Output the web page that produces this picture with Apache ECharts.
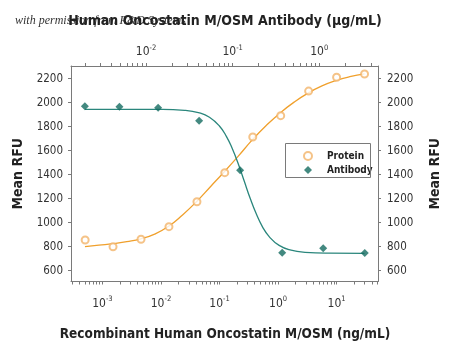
<!DOCTYPE html>
<html>
<head>
<meta charset="utf-8">
<script src="https://cdn.jsdelivr.net/npm/echarts@6/dist/echarts.min.js"></script>
<style>html,body{margin:0;padding:0;background:#fff}#c{width:450px;height:347px}</style>
</head>
<body>
<div id="c"></div>
<script>
// ---- data ----
var proteinConc = [0.000508, 0.00152, 0.00457, 0.0137, 0.0412, 0.123, 0.370, 1.11, 3.33, 10, 30]; // ng/mL
var proteinRFU  = [856, 800, 862, 967, 1175, 1417, 1714, 1892, 2097, 2212, 2239];
var antibodyConc = [0.00197, 0.00493, 0.0138, 0.041, 0.122, 0.373, 1.11, 3.35]; // ug/mL
var antibodyRFU  = [1970, 1967, 1958, 1850, 1437, 750, 787, 748];
// fitted curves, points
var proteinFitConc = [0.000504, 0.000871, 0.00151, 0.00261, 0.00452, 0.00782, 0.01352, 0.0234, 0.0405, 0.0700, 0.121, 0.2095, 0.363, 0.628, 1.087, 1.88, 3.25, 5.62, 9.73, 16.8, 29.9];
var proteinFitRFU  = [800, 813, 825, 842, 865, 905, 970, 1065, 1175, 1300, 1425, 1555, 1690, 1810, 1915, 2005, 2080, 2140, 2185, 2217, 2240];
var antibodyFitConc = [0.001974, 0.004984, 0.01437, 0.02785, 0.04142, 0.05399, 0.07033, 0.08464, 0.09922, 0.1163, 0.1363, 0.1597, 0.1873, 0.2195, 0.2641, 0.3441, 0.4728, 0.6849, 1.2925, 3.325];
var antibodyFitRFU  = [1945, 1945, 1944, 1936, 1915, 1879, 1806, 1720, 1616, 1489, 1345, 1201, 1074, 970, 884, 811, 771, 753, 746, 745];
// tick labels
var bottomDecades = [-3, -2, -1, 0, 1];
var topDecades = [-2, -1, 0];
var yTicks = [600, 800, 1000, 1200, 1400, 1600, 1800, 2000, 2200];
var seriesNames = ['Protein', 'Antibody'];
var titleTop = 'Human Oncostatin M/OSM Antibody (\u03bcg/mL)';
var titleBottom = 'Recombinant Human Oncostatin M/OSM (ng/mL)';
var yName = 'Mean RFU';
var watermark = 'with permission from R&D Systems';

var FONT = '"Liberation Sans Narrow","DejaVu Sans Condensed","Arial Narrow",sans-serif';
var ORANGE = '#F0A02C', ORANGE_PT = '#F2B46A', TEAL = '#2A867C', TEAL_PT = '#146B60';
var AXIS = '#7a7a7a';

function lg(v){ return Math.log10(v); }
function pairs(xs, ys){ return xs.map(function(x,i){ return [lg(x), ys[i]]; }); }
function minorTicks(min, max){
  var out = [];
  for (var n = Math.floor(min) - 1; n <= Math.ceil(max); n++)
    for (var k = 1; k <= 9; k++){ var v = n + Math.log10(k); if (v >= min && v <= max) out.push(v); }
  return out;
}
var bMin = -3.536, bMax = 1.707, tMin = -2.866, tMax = 0.678;
var yMin = 510, yMax = 2306;

var supFmt = function(v){ return '{b|10}{s|' + Math.round(v) + '}'; };
var supRich = { b:{fontSize:12, fontFamily:FONT, color:'#333', verticalAlign:'bottom', lineHeight:14},
                s:{fontSize:7.5, fontFamily:FONT, color:'#333', verticalAlign:'top', lineHeight:14} };
var plain = function(v){ return String(v); };

var chart = echarts.init(document.getElementById('c'), null, {renderer:'canvas'});
chart.setOption({
  animation:false,
  backgroundColor:'#fff',
  title:[
    {text:watermark, left:10, top:10, z:1, textStyle:{fontFamily:'"Liberation Serif","DejaVu Serif",serif', fontSize:12, fontStyle:'italic', fontWeight:'normal', color:'#333'}},
    {text:titleTop, left:'center', top:9, z:5, textStyle:{fontFamily:FONT, fontSize:14, fontWeight:'bold', color:'#222'}},
    {text:titleBottom, left:'center', top:322, textStyle:{fontFamily:FONT, fontSize:13.5, fontWeight:'bold', color:'#222'}}
  ],
  grid:{left:71, right:71, top:66, bottom:65.5},
  xAxis:[
    {type:'value', position:'bottom', min:bMin, max:bMax,
     axisLine:{show:true, onZero:false, lineStyle:{color:AXIS}}, splitLine:{show:false},
     axisTick:{show:true, inside:false, length:3, customValues:minorTicks(bMin,bMax), lineStyle:{color:AXIS}},
     axisLabel:{customValues:bottomDecades, formatter:supFmt, rich:supRich, margin:14}},
    {type:'value', position:'top', min:tMin, max:tMax,
     axisLine:{show:true, onZero:false, lineStyle:{color:AXIS}}, splitLine:{show:false},
     axisTick:{show:true, inside:false, length:3, customValues:minorTicks(tMin,tMax), lineStyle:{color:AXIS}},
     axisLabel:{customValues:topDecades, formatter:supFmt, rich:supRich, margin:8}}
  ],
  yAxis:[
    {type:'value', position:'left', min:yMin, max:yMax, name:yName, nameLocation:'middle', nameRotate:90, nameGap:36,
     nameTextStyle:{fontFamily:FONT, fontSize:14, fontWeight:'bold', color:'#222'},
     axisLine:{show:true, onZero:false, lineStyle:{color:AXIS}}, splitLine:{show:false},
     axisTick:{show:true, length:3, customValues:yTicks, lineStyle:{color:AXIS}},
     axisLabel:{customValues:yTicks, formatter:plain, fontFamily:FONT, fontSize:11.5, color:'#333', margin:8}},
    {type:'value', position:'right', min:yMin, max:yMax, name:yName, nameLocation:'middle', nameRotate:90, nameGap:50,
     nameTextStyle:{fontFamily:FONT, fontSize:14, fontWeight:'bold', color:'#222'},
     axisLine:{show:true, onZero:false, lineStyle:{color:AXIS}}, splitLine:{show:false},
     axisTick:{show:true, length:3, customValues:yTicks, lineStyle:{color:AXIS}},
     axisLabel:{customValues:yTicks, formatter:plain, fontFamily:FONT, fontSize:11.5, color:'#333', margin:9}}
  ],
  legend:{
    data:[{name:seriesNames[0], icon:'emptyCircle'},{name:seriesNames[1], icon:'diamond'}],
    orient:'vertical', left:303, top:150, padding:0, itemGap:2, itemWidth:8, itemHeight:8,
    textStyle:{fontFamily:FONT, fontSize:10, fontWeight:'bold', color:'#222', lineHeight:12, padding:[0,0,0,10]}
  },
  graphic:[{type:'rect', shape:{x:285.5, y:143.5, width:85, height:34}, style:{fill:'none', stroke:'#7a7a7a', lineWidth:1}, z:100}],
  series:[
    {type:'line', name:'proteinFit', xAxisIndex:0, yAxisIndex:0, data:pairs(proteinFitConc, proteinFitRFU),
     showSymbol:false, smooth:0.5, lineStyle:{color:ORANGE, width:1.3}, z:2, silent:true},
    {type:'line', name:'antibodyFit', xAxisIndex:1, yAxisIndex:0, data:pairs(antibodyFitConc, antibodyFitRFU),
     showSymbol:false, smooth:0.5, lineStyle:{color:TEAL, width:1.3}, z:2, silent:true},
    {type:'scatter', name:seriesNames[0], xAxisIndex:0, yAxisIndex:0, data:pairs(proteinConc, proteinRFU),
     symbol:'emptyCircle', symbolSize:7, itemStyle:{color:ORANGE_PT, borderWidth:0.9}, z:3},
    {type:'scatter', name:seriesNames[1], xAxisIndex:1, yAxisIndex:0, data:pairs(antibodyConc, antibodyRFU),
     symbol:'diamond', symbolSize:8, itemStyle:{color:TEAL_PT}, z:3}
  ]
});
</script>
</body>
</html>
